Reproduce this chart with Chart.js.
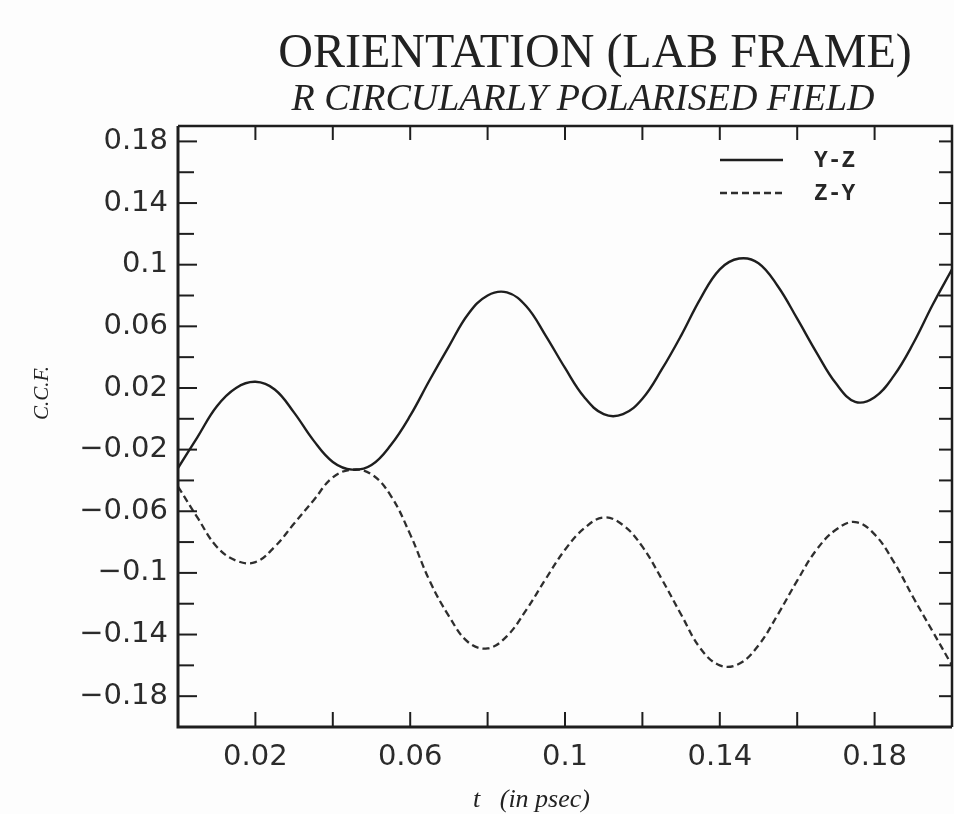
<!DOCTYPE html>
<html>
<head>
<meta charset="utf-8">
<script src="https://cdn.jsdelivr.net/npm/chart.js@4.4.1/dist/chart.umd.min.js"></script>
<style>
html,body{margin:0;padding:0;background:#fdfdfd;}
#wrap{width:954px;height:814px;position:relative;}
</style>
</head>
<body>
<div id="wrap"><canvas id="c"></canvas></div>
<script>
// ---- data ----
const tValues = [0,0.005,0.01,0.015,0.02,0.025,0.03,0.035,0.04,0.045,0.05,0.055,0.06,0.065,0.07,0.075,0.08,0.085,0.09,0.095,0.1,0.105,0.11,0.115,0.12,0.125,0.13,0.135,0.14,0.145,0.15,0.155,0.16,0.165,0.17,0.175,0.18,0.185,0.19,0.195,0.2];
const yzValues = [-0.032,-0.012,0.008,0.020,0.024,0.019,0.004,-0.014,-0.028,-0.033,-0.030,-0.017,0.002,0.025,0.047,0.068,0.080,0.082,0.073,0.054,0.033,0.014,0.003,0.003,0.013,0.032,0.054,0.078,0.097,0.104,0.101,0.086,0.065,0.043,0.023,0.011,0.014,0.028,0.049,0.074,0.097];
const zyValues = [-0.044,-0.064,-0.083,-0.092,-0.093,-0.083,-0.068,-0.053,-0.038,-0.033,-0.036,-0.050,-0.075,-0.105,-0.128,-0.145,-0.149,-0.141,-0.124,-0.104,-0.085,-0.071,-0.064,-0.069,-0.083,-0.104,-0.127,-0.149,-0.160,-0.159,-0.147,-0.127,-0.105,-0.085,-0.072,-0.067,-0.075,-0.093,-0.116,-0.138,-0.160];
const seriesNames = ['Y-Z','Z-Y'];
const yTickValues = [-0.18,-0.14,-0.1,-0.06,-0.02,0.02,0.06,0.1,0.14,0.18];
const yTickLabels = ['\u22120.18','\u22120.14','\u22120.1','\u22120.06','\u22120.02','0.02','0.06','0.1','0.14','0.18'];
const yMinorValues = [-0.16,-0.12,-0.08,-0.04,0,0.04,0.08,0.12,0.16];
const xTickValues = [0.02,0.06,0.1,0.14,0.18];
const xTickLabels = ['0.02','0.06','0.1','0.14','0.18'];
const xMinorValues = [0.04,0.08,0.12,0.16];
const titleText = 'ORIENTATION (LAB FRAME)';
const subtitleText = 'R CIRCULARLY POLARISED FIELD';
const xTitleText = 't   (in psec)';
const yTitleText = 'C.C.F.';

const INK = '#1e1e1e';
const near = (a,b)=>Math.abs(a-b)<1e-9;

const decor = {
  id:'decor',
  beforeDraw(chart){
    const ctx = chart.ctx;
    ctx.save();
    ctx.fillStyle = '#fdfdfd';
    ctx.fillRect(0,0,chart.width,chart.height);
    ctx.restore();
  },
  afterDraw(chart){
    const {ctx, chartArea:{left,right,top,bottom}, scales:{x,y}} = chart;
    ctx.save();
    ctx.strokeStyle = INK;
    ctx.lineCap = 'butt';
    // frame
    ctx.lineWidth = 3;
    ctx.beginPath(); ctx.moveTo(left, top); ctx.lineTo(left, bottom); ctx.lineTo(right, bottom); ctx.stroke();
    ctx.lineWidth = 2.5;
    ctx.beginPath(); ctx.moveTo(left, top); ctx.lineTo(right, top); ctx.lineTo(right, bottom); ctx.stroke();
    // inward ticks
    ctx.lineWidth = 2;
    const allY = yTickValues.concat(yMinorValues);
    allY.forEach(v=>{
      const py = y.getPixelForValue(v);
      const major = yTickValues.some(t=>near(t,v));
      const L = major ? 19 : 16;
      ctx.beginPath(); ctx.moveTo(left, py); ctx.lineTo(left+L, py); ctx.stroke();
      ctx.beginPath(); ctx.moveTo(right, py); ctx.lineTo(right-13, py); ctx.stroke();
    });
    const allX = xTickValues.concat(xMinorValues);
    allX.forEach(v=>{
      const px = x.getPixelForValue(v);
      ctx.beginPath(); ctx.moveTo(px, bottom); ctx.lineTo(px, bottom-15); ctx.stroke();
      ctx.beginPath(); ctx.moveTo(px, top); ctx.lineTo(px, top+14); ctx.stroke();
    });
    // titles
    ctx.fillStyle = '#222';
    ctx.textAlign = 'center';
    ctx.textBaseline = 'alphabetic';
    ctx.font = '48px "Liberation Serif"';
    ctx.fillText(titleText, 595, 67);
    ctx.font = 'italic 38px "Liberation Serif"';
    ctx.fillText(subtitleText, 583, 110);
    // x title
    ctx.font = 'italic 26px "Liberation Serif"';
    ctx.textAlign = 'left';
    ctx.fillText(xTitleText, 473, 807);
    // y title
    ctx.save();
    ctx.translate(48, 393);
    ctx.rotate(-Math.PI/2);
    ctx.textAlign = 'center';
    ctx.font = 'italic 21px "Liberation Serif"';
    ctx.fillText(yTitleText, 0, 0);
    ctx.restore();
    // legend
    const lx1 = 720, lx2 = 783, tx = 814;
    const rows = [160, 193];
    chart.data.datasets.forEach((ds,i)=>{
      const ly = rows[i];
      ctx.strokeStyle = ds.borderColor;
      ctx.lineWidth = ds.borderWidth;
      ctx.setLineDash(ds.borderDash || []);
      ctx.beginPath(); ctx.moveTo(lx1, ly); ctx.lineTo(lx2, ly); ctx.stroke();
      ctx.setLineDash([]);
      ctx.fillStyle = '#262626';
      ctx.font = 'bold 23px "Liberation Mono"';
      ctx.textAlign = 'left';
      ctx.textBaseline = 'middle';
      ctx.fillText(ds.label, tx, ly+1);
    });
    ctx.restore();
  }
};

const pts = vals => tValues.map((t,i)=>({x:t, y:vals[i]}));

new Chart(document.getElementById('c'), {
  type:'line',
  data:{
    datasets:[
      {label:seriesNames[0], data:pts(yzValues), borderColor:INK, borderWidth:2.4, pointRadius:0, tension:0.4, fill:false},
      {label:seriesNames[1], data:pts(zyValues), borderColor:'#2e2e2e', borderWidth:2.3, borderDash:[7,4], pointRadius:0, tension:0.4, fill:false}
    ]
  },
  options:{
    responsive:true,
    maintainAspectRatio:false,
    animation:false,
    devicePixelRatio:1,
    layout:{padding:{top:126,right:2,left:0,bottom:0}},
    plugins:{legend:{display:false}, title:{display:false}, tooltip:{enabled:false}},
    scales:{
      x:{
        type:'linear', min:0, max:0.2,
        grid:{display:false, drawTicks:false},
        border:{display:false},
        afterBuildTicks(scale){ scale.ticks = xTickValues.map(v=>({value:v})); },
        afterFit(scale){ scale.height = 87; },
        ticks:{
          autoSkip:false, maxRotation:0, padding:13, color:'#2b2b2b',
          font:{family:'"DejaVu Sans"', size:29},
          callback(v){ const i = xTickValues.findIndex(t=>near(t,v)); return i>=0 ? xTickLabels[i] : ''; }
        }
      },
      y:{
        type:'linear', min:-0.2, max:0.19,
        grid:{display:false, drawTicks:false},
        border:{display:false},
        afterBuildTicks(scale){ scale.ticks = yTickValues.map(v=>({value:v})); },
        afterFit(scale){ scale.width = 178; },
        ticks:{
          autoSkip:false, padding:10, color:'#2b2b2b',
          font:{family:'"DejaVu Sans"', size:29},
          callback(v){ const i = yTickValues.findIndex(t=>near(t,v)); return i>=0 ? yTickLabels[i] : ''; }
        }
      }
    }
  },
  plugins:[decor]
});
</script>
</body>
</html>
